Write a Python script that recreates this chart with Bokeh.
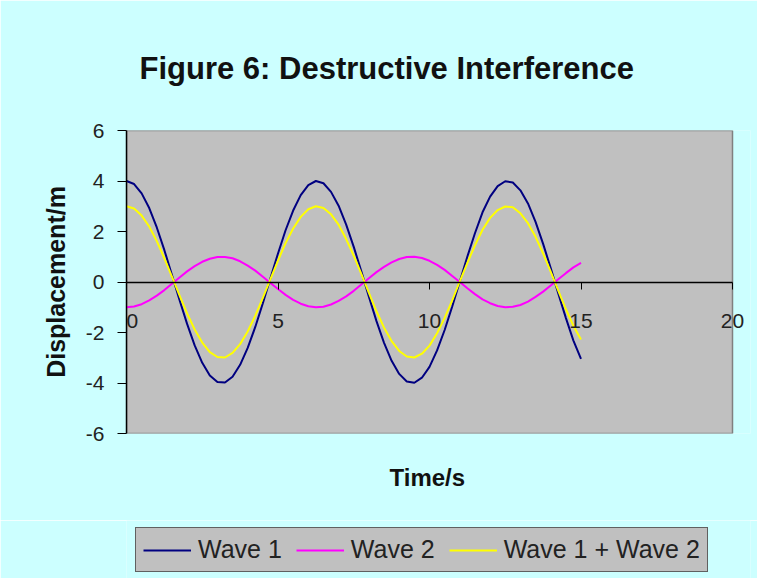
import numpy as np
from bokeh.plotting import figure
from bokeh.layouts import column
from bokeh.models import (Title, Legend, LegendItem, FixedTicker, Range1d,
                          PrintfTickFormatter)
from bokeh.embed import file_html
from bokeh.resources import INLINE

# Sample times (s) and the displacement (m) of each wave at those times
time_s = np.linspace(0, 15, 61)
wave_1 = [4.00, 3.88, 3.51, 2.93, 2.16, 1.26, 0.28, -0.71, -1.66, -2.51,
          -3.20, -3.70, -3.96, -3.98, -3.75, -3.28, -2.61, -1.78, -0.84, 0.15,
          1.13, 2.05, 2.83, 3.44, 3.84, 4.00, 3.91, 3.57, 3.02, 2.27,
          1.39, 0.42, -0.58, -1.55, -2.41, -3.12, -3.64, -3.94, -3.99, -3.79,
          -3.36, -2.71, -1.90, -0.97, 0.02, 1.01, 1.93, 2.76, 3.38, 3.80,
          3.99, 3.94, 3.63, 3.11, 2.38, 1.51, 0.55, -0.45, -1.42, -2.32,
          -3.04]
wave_2 = [-1.00, -0.97, -0.88, -0.73, -0.54, -0.32, -0.07, 0.18, 0.42, 0.63,
          0.80, 0.92, 0.99, 0.99, 0.94, 0.82, 0.65, 0.45, 0.21, -0.04,
          -0.28, -0.51, -0.71, -0.86, -0.96, -1.00, -0.98, -0.89, -0.75, -0.57,
          -0.35, -0.10, 0.15, 0.39, 0.60, 0.78, 0.91, 0.99, 1.00, 0.95,
          0.84, 0.68, 0.48, 0.24, 0.00, -0.25, -0.48, -0.69, -0.84, -0.95,
          -1.00, -0.98, -0.91, -0.78, -0.59, -0.38, -0.14, 0.11, 0.35, 0.58,
          0.76]
# The resultant is the point-by-point sum of the two waves
wave_sum = [a + b for a, b in zip(wave_1, wave_2)]

series_names = ["Wave 1", "Wave 2", "Wave 1 + Wave 2"]
series_colors = ["#000080", "#ff00ff", "#ffff00"]
x_ticks = [0, 5, 10, 15, 20]
y_ticks = [-6, -4, -2, 0, 2, 4, 6]
x_limits = (0, 20)
y_limits = (-6, 6)

FONT = "Liberation Sans"
BG = "#ccffff"
PLOT_GRAY = "#c0c0c0"

# The frame runs a little past x = 20 so the last tick label is not clipped.
x_pad_right = 18 / 30.3

p = figure(width=757, height=520, output_backend="svg", toolbar_location=None,
           x_range=Range1d(x_limits[0], x_limits[1] + x_pad_right),
           y_range=Range1d(*y_limits),
           min_border_left=126, min_border_right=7,
           min_border_top=130, min_border_bottom=87,
           title=None)
p.border_fill_color = BG
p.background_fill_color = BG
p.outline_line_color = None
p.xgrid.visible = False
p.ygrid.visible = False

# gray plot area
p.quad(left=[x_limits[0]], right=[x_limits[1]], bottom=[y_limits[0]], top=[y_limits[1]],
       fill_color=PLOT_GRAY, line_color="#808080", line_width=1.5)

# y axis on the left edge of the plot area
yax = p.yaxis[0]
yax.ticker = FixedTicker(ticks=y_ticks)
yax.formatter = PrintfTickFormatter(format="%d")
yax.axis_line_color = "#000000"
yax.axis_line_width = 1.5
yax.major_tick_out = 9
yax.major_tick_in = 0
yax.major_tick_line_color = "#000000"
yax.minor_tick_line_color = None
yax.major_label_text_font = FONT
yax.major_label_text_font_size = "21px"
yax.major_label_text_color = "#222222"
yax.major_label_standoff = 13
yax.axis_label = "Displacement/m"
yax.axis_label_text_font = FONT
yax.axis_label_text_font_size = "25px"
yax.axis_label_text_font_style = "bold"
yax.axis_label_text_color = "#111111"
yax.axis_label_standoff = 13

# x axis crosses at zero displacement
xax = p.xaxis[0]
xax.fixed_location = 0
xax.bounds = x_limits
xax.ticker = FixedTicker(ticks=x_ticks)
xax.formatter = PrintfTickFormatter(format="%d")
xax.major_label_overrides = {0: "\u00a0\u00a00"}
xax.axis_line_color = "#000000"
xax.axis_line_width = 1.5
xax.major_tick_out = 7
xax.major_tick_in = 0
xax.major_tick_line_color = "#000000"
xax.minor_tick_line_color = None
xax.major_label_text_font = FONT
xax.major_label_text_font_size = "21px"
xax.major_label_text_color = "#222222"
xax.major_label_standoff = 20

for ys, color in zip([wave_1, wave_2, wave_sum], series_colors):
    p.line(time_s, ys, line_color=color, line_width=2)

# Title and x-axis caption
title = Title(text="Figure 6: Destructive Interference", align="left", offset=13,
              text_font=FONT, text_font_size="31px", text_font_style="bold",
              text_color="#111111", standoff=90)
p.add_layout(title, "above")

xcap = Title(text="Time/s", align="left", offset=263, text_font=FONT,
             text_font_size="24px", text_font_style="bold", text_color="#111111",
             standoff=56)
p.add_layout(xcap, "below")

# Legend strip under the chart; its key lines use the same series, drawn
# outside the strip's visible range so only the legend shows.
leg = figure(width=757, height=58, output_backend="svg", toolbar_location=None,
             x_range=Range1d(x_limits[0], x_limits[1]),
             y_range=Range1d(y_limits[1] * 10, y_limits[1] * 11),
             x_axis_location=None, y_axis_location=None,
             min_border=0, min_border_left=0, min_border_right=0,
             min_border_top=0, min_border_bottom=0)
leg.border_fill_color = BG
leg.background_fill_color = BG
leg.outline_line_color = None
leg.xgrid.visible = False
leg.ygrid.visible = False
keys = [leg.line(time_s, ys, line_color=c, line_width=2)
        for ys, c in zip([wave_1, wave_2, wave_sum], series_colors)]

legend = Legend(items=[LegendItem(label=n, renderers=[r]) for n, r in zip(series_names, keys)],
                orientation="horizontal", location=(9, 6),
                label_text_font=FONT, label_text_font_size="25px", label_text_color="#222222",
                glyph_width=48, glyph_height=20, label_standoff=7, spacing=14,
                padding=7, margin=0,
                border_line_color="#000000", border_line_width=1.5,
                background_fill_color=PLOT_GRAY, background_fill_alpha=1.0)
leg.add_layout(legend, "center")

page = column(p, leg, spacing=0)
open("out.html", "w").write(file_html(page, INLINE))
